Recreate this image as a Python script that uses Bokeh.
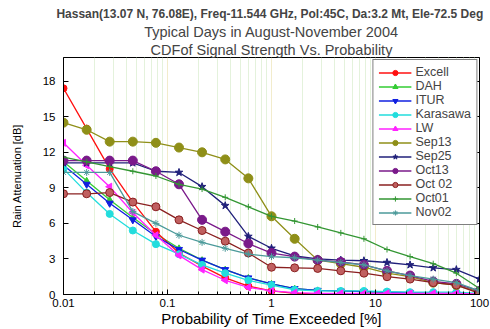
import math
from bokeh.plotting import figure
from bokeh.models import (Range1d, LinearAxis, Legend, LegendItem, Title, FixedTicker)
from bokeh.embed import file_html
from bokeh.resources import INLINE

# probability of time exceeded [%]
prob = [0.01, 0.0167, 0.0278, 0.0464, 0.0774, 0.129, 0.215, 0.359, 0.599, 1.0,
        1.67, 2.78, 4.64, 7.74, 12.9, 21.5, 35.9, 59.9, 100.0]

excell   = [17.4, 14.0, 10.6, 7.8, 5.3, 3.5, 2.4, 1.4, 0.7, 0.3, 0.1, 0.05, 0.05, 0.05, 0.05, 0.05, 0.05, 0.05, 0.02]
dah      = [11.2, 9.6, 8.0, 6.5, 5.1, 3.9, 2.9, 2.1, 1.4, 0.9, 0.5, 0.35, 0.3, 0.25, 0.2, 0.15, 0.1, 0.1, 0.05]
itur     = [10.9, 9.3, 7.7, 6.3, 4.9, 3.8, 2.9, 2.1, 1.4, 0.9, 0.5, 0.35, 0.3, 0.25, 0.2, 0.15, 0.1, 0.1, 0.05]
karasawa = [10.6, 8.6, 6.8, 5.4, 4.25, 3.4, 2.5, 1.8, 1.2, 0.8, 0.4, 0.3, 0.3, 0.3, 0.25, 0.2, 0.2, 0.2, 0.1]
lw       = [12.8, 10.9, 9.1, 6.9, 5.0, 3.3, 2.1, 1.2, 0.6, 0.3, 0.15, 0.1, 0.1, 0.1, 0.1, 0.1, 0.1, 0.1, 0.05]
sep13    = [14.5, 13.9, 12.9, 12.9, 12.8, 12.4, 12.0, 11.4, 9.8, 6.6, 4.7, 2.9, 2.6, 2.3, 1.8, 1.5, 1.0, 0.8, 0.2]
sep25    = [11.1, 11.1, 11.1, 11.1, 10.4, 10.3, 9.1, 7.5, 4.9, 3.9, 3.25, 3.0, 2.9, 2.85, 2.7, 2.5, 2.25, 2.1, 1.3]
oct13    = [11.3, 11.3, 11.3, 11.3, 10.4, 9.3, 6.3, 5.3, 4.3, 3.5, 3.2, 2.9, 2.75, 2.5, 2.0, 1.6, 1.1, 0.9, 0.3]
oct02    = [8.5, 8.5, 8.6, 7.8, 7.4, 6.3, 5.4, 4.5, 3.5, 2.3, 2.25, 2.2, 2.0, 1.8, 1.5, 1.3, 1.0, 0.8, 0.1]
oct01    = [11.6, 11.2, 10.8, 10.4, 10.0, 9.3, 8.9, 8.2, 7.4, 6.6, 6.2, 5.7, 5.2, 4.7, 3.8, 3.2, 2.6, 1.8, 0.5]
nov02    = [10.3, 10.3, 10.3, 7.0, 6.0, 5.0, 4.4, 3.9, 3.4, 3.2, 3.1, 2.9, 2.7, 2.5, 2.0, 1.6, 1.3, 1.0, 0.3]

series_names = ["Excell", "DAH", "ITUR", "Karasawa", "LW", "Sep13", "Sep25",
                "Oct13", "Oct 02", "Oct01", "Nov02"]
series_vals = [excell, dah, itur, karasawa, lw, sep13, sep25, oct13, oct02, oct01, nov02]
x_tick_vals = [0.01, 0.1, 1, 10, 100]
x_tick_labels = ["0.01", "0.1", "1", "10", "100"]
y_tick_vals = [0, 3, 6, 9, 12, 15, 18]

title_1 = "Hassan(13.07 N, 76.08E), Freq-11.544 GHz, Pol:45C,  Da:3.2 Mt, Ele-72.5 Deg"
title_2 = "Typical Days in August-November 2004"
title_3 = "CDFof Signal Strength Vs. Probability"
x_label = "Probability of Time Exceeded [%]"
y_label = "Rain Attenuation [dB]"

styles = {
    "Excell":   dict(color="#ff1010", marker="circle", size=7, fill="#ff1010"),
    "DAH":      dict(color="#33cc33", marker="triangle", size=6, fill="#33cc33"),
    "ITUR":     dict(color="#1020e0", marker="inverted_triangle", size=7, fill="#1020e0"),
    "Karasawa": dict(color="#22dddd", marker="circle", size=7, fill="#22dddd"),
    "LW":       dict(color="#ff22ff", marker="triangle", size=7, fill="#ff22ff", angle=math.pi / 2),
    "Sep13":    dict(color="#8f8f18", marker="circle", size=9, fill="#8f8f18"),
    "Sep25":    dict(color="#20207a", marker="star", size=8, fill="#20207a"),
    "Oct13":    dict(color="#7a1a8a", marker="circle", size=9, fill="#7a1a8a"),
    "Oct 02":   dict(color="#8a2020", marker="circle", size=8, fill="#c06060"),
    "Oct01":    dict(color="#339633", marker="cross", size=6, fill="#339633"),
    "Nov02":    dict(color="#4b9a9a", marker="asterisk", size=7, fill="#4b9a9a"),
}

FONT = "Liberation Sans"
minor = [m * 10 ** e for e in range(-2, 2) for m in range(2, 10)]

p = figure(width=490, height=329, x_axis_type="log",
           x_range=Range1d(0.01, 100), y_range=Range1d(0, 20),
           output_backend="svg", toolbar_location=None,
           min_border_left=63, min_border_right=11, min_border_bottom=0,
           min_border_top=57, title=title_1)
p.title.align = "center"
p.title.text_font = FONT
p.title.text_font_style = "bold"
p.title.text_font_size = "12px"
p.title.offset = -15
p.title.standoff = 2
p.add_layout(Title(text=title_3, align="center", text_font=FONT, text_font_style="normal",
                   text_font_size="14.5px", offset=13, standoff=0), "above")
p.add_layout(Title(text=title_2, align="center", text_font=FONT, text_font_style="normal",
                   text_font_size="14.5px", offset=15, standoff=0), "above")

p.outline_line_color = "black"
p.outline_line_width = 1

xa = p.xaxis[0]
xa.ticker = FixedTicker(ticks=x_tick_vals, minor_ticks=minor)
xa.major_label_overrides = {v: l for v, l in zip(x_tick_vals, x_tick_labels)}
xa.axis_label = x_label
ya = p.yaxis[0]
ya.ticker = FixedTicker(ticks=y_tick_vals)
ya.axis_label = y_label
for ax in (xa, ya):
    ax.axis_line_color = "black"
    ax.major_tick_in = 5
    ax.major_tick_out = 0
    ax.minor_tick_in = 3
    ax.minor_tick_out = 0
    ax.major_label_text_font = FONT
    ax.major_label_text_font_size = "11.5px"
    ax.major_label_text_color = "black"
    ax.axis_label_text_font = FONT
    ax.axis_label_text_font_style = "normal"
    ax.axis_label_text_color = "black"
xa.axis_label_text_font_size = "15px"
xa.major_label_standoff = 4
xa.axis_label_standoff = 0
ya.axis_label_text_font_size = "11px"
ya.major_label_standoff = 8
ya.axis_label_standoff = 17
ya.minor_tick_in = 0

ya2 = LinearAxis(ticker=FixedTicker(ticks=y_tick_vals),
                 major_label_text_color=None, major_label_text_font_size="2px",
                 major_tick_in=5, major_tick_out=0, minor_tick_in=0, minor_tick_out=0,
                 axis_line_color="black", major_label_standoff=0)
p.add_layout(ya2, "right")

p.xgrid.grid_line_color = "#f2eccc"
p.xgrid.minor_grid_line_color = "#e4f2dc"
p.ygrid.grid_line_color = None

order = ["DAH", "Excell", "ITUR", "Karasawa", "LW", "Sep13", "Sep25", "Oct13", "Oct 02", "Oct01", "Nov02"]
renderers = {}
for name in order:
    vals = series_vals[series_names.index(name)]
    st = styles[name]
    r1 = p.line(prob, vals, line_color=st["color"], line_width=1.3)
    r2 = p.scatter(prob, vals, marker=st["marker"], size=st["size"],
                   line_color=st["color"], fill_color=st["fill"],
                   angle=st.get("angle", 0.0), line_width=1)
    renderers[name] = [r1, r2]
items = [LegendItem(label=name, renderers=renderers[name]) for name in series_names]

legend = Legend(items=items, location="top_right", margin=2,
                border_line_color="black", border_line_width=1,
                background_fill_alpha=1.0, padding=5, spacing=0,
                label_text_font=FONT, label_text_font_size="12.5px",
                label_height=13, glyph_height=13, glyph_width=33,
                label_standoff=4)
p.add_layout(legend)

open("out.html", "w").write(file_html(p, INLINE))
